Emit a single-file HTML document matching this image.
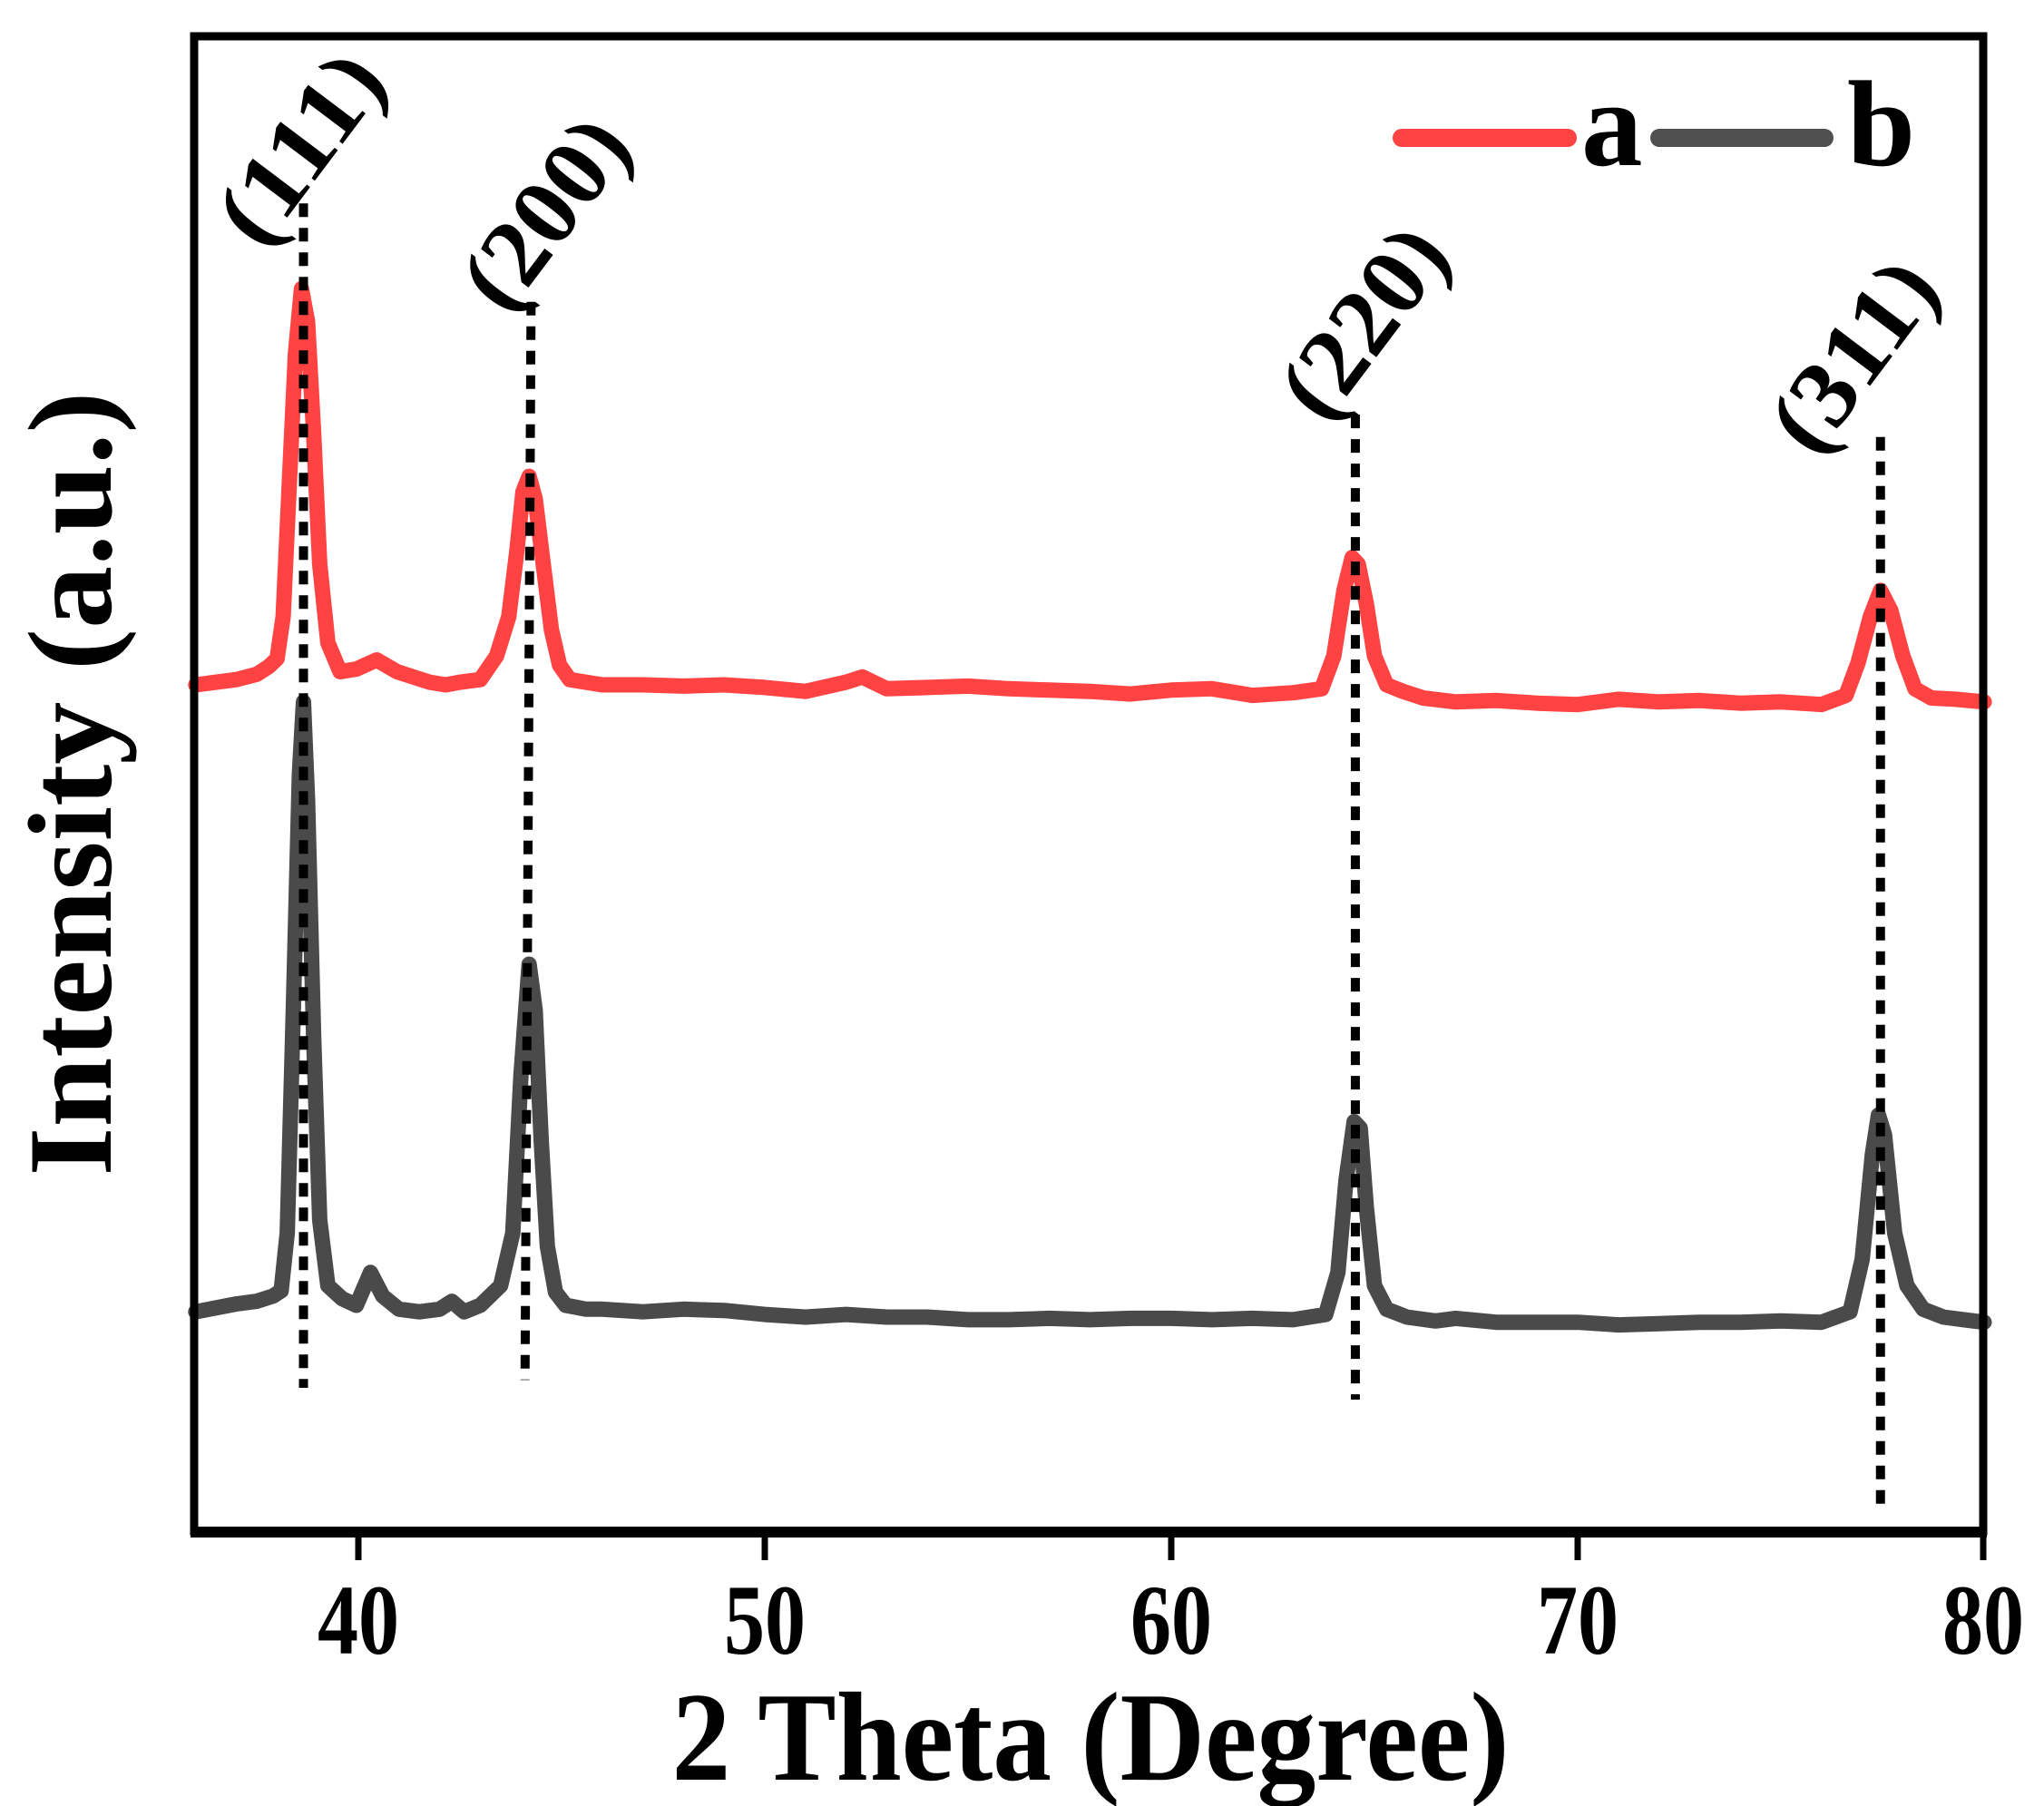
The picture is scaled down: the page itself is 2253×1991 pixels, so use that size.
<!DOCTYPE html>
<html><head><meta charset="utf-8"><style>
html,body{margin:0;padding:0;background:#fff;}
svg{display:block;}
text{font-family:"Liberation Serif",serif;font-weight:bold;fill:#000;}
</style></head><body>
<svg id="chart" width="2253" height="1991" viewBox="0 0 2253 1991" xmlns="http://www.w3.org/2000/svg">
<rect x="0" y="0" width="2253" height="1991" fill="#fff"/>
<g id="plot"></g>
<rect x="214" y="40" width="1972" height="1648" fill="none" stroke="#000" stroke-width="9"/>
<line x1="210" y1="1689" x2="2190" y2="1689" stroke="#000" stroke-width="12"/>
<g id="ticks"></g>
<text x="1202" y="1962" font-size="140" text-anchor="middle" textLength="923" lengthAdjust="spacingAndGlyphs">2 Theta (Degree)</text>
<text transform="translate(122,864) rotate(-90)" x="0" y="0" font-size="132" text-anchor="middle" textLength="865" lengthAdjust="spacingAndGlyphs">Intensity (a.u.)</text>
<g>
<line x1="1545" y1="152" x2="1728" y2="152" stroke="#FF4343" stroke-width="20" stroke-linecap="round"/>
<text x="1743" y="182" font-size="135">a</text>
<line x1="1829" y1="152" x2="2011" y2="152" stroke="#505050" stroke-width="20" stroke-linecap="round"/>
<text x="2036" y="182" font-size="135">b</text>
</g>
</svg>
<script>
const xTicks=[40,50,60,70,80];
const xTickLabels=["40","50","60","70","80"];
const aTheta=[36,36.5,37,37.5,37.8,38.0,38.15,38.3,38.45,38.6,38.75,38.9,39.05,39.25,39.55,39.95,40.45,40.95,41.35,41.75,42.15,42.5,43.0,43.4,43.7,43.9,44.05,44.2,44.35,44.55,44.75,44.95,45.2,45.6,46,47,48,49,50,51,52,52.4,53,54,55,56,57,58,59,60,61,62,63,63.7,64.0,64.25,64.45,64.6,64.8,65.0,65.3,65.7,66.2,67,68,69,70,71,72,73,74,75,76,76.6,76.9,77.2,77.45,77.7,78.0,78.3,78.7,79.3,80];
const aVal=[648,650,652,656,662,668,700,800,900,950,925,840,740,680,658,660,667,658,654,650,648,650,652,670,700,750,795,807,790,740,690,663,652,650,648,648,647,648,646,643,650,654,645,646,647,645,644,643,641,644,645,640,642,645,670,720,745,740,710,670,648,643,638,635,636,634,633,637,635,636,634,635,633,640,665,700,720,705,670,645,638,637,635];
const bTheta=[36,36.5,37,37.5,37.9,38.1,38.25,38.4,38.55,38.65,38.75,38.9,39.05,39.25,39.6,39.95,40.3,40.6,41,41.5,42,42.3,42.6,43,43.5,43.8,44.0,44.2,44.35,44.5,44.65,44.85,45.1,45.6,46,47,48,49,50,51,52,53,54,55,56,57,58,59,60,61,62,63,63.8,64.1,64.3,64.5,64.65,64.8,65.0,65.3,65.8,66.5,67,68,69,70,71,72,73,74,75,76,76.7,77.0,77.25,77.4,77.55,77.8,78.1,78.5,79,79.5,80];
const bVal=[170,173,176,178,182,186,230,400,580,635,560,380,240,190,180,175,200,182,172,170,172,178,170,175,190,230,350,435,400,300,220,185,175,172,172,170,172,171,168,166,168,166,166,164,164,165,164,165,165,164,165,164,168,200,270,315,310,250,190,172,166,163,165,162,162,162,160,161,162,162,163,162,170,210,290,320,305,230,190,172,166,164,162];
const refTheta=[[38.65,38.65],[44.25,44.1],[64.53,64.53],[77.45,77.45]];
const refVal=[[1015,112],[940,118],[854,103],[837,17]];
const refLabels=["(111)","(200)","(220)","(311)"];
const refLabelX=[330,600,1502,2042];
const refLabelY=[162,234,354,391];
const NS="http://www.w3.org/2000/svg";
function xs(v){return 395+(v-40)*44.8;}
function ys(v){return 1692-v*1.446;}
const plot=document.getElementById('plot');
function series(th,vals,color,name){
  const p=document.createElementNS(NS,'path');
  let d='';
  for(let i=0;i<th.length;i++){d+=(i?'L':'M')+xs(th[i]).toFixed(1)+','+ys(vals[i]).toFixed(1);}
  p.setAttribute('d',d);p.setAttribute('fill','none');p.setAttribute('stroke',color);
  p.setAttribute('stroke-width','17');p.setAttribute('stroke-linejoin','round');p.setAttribute('stroke-linecap','round');
  
  
  plot.appendChild(p);
}
series(aTheta,aVal,'#FF4343','series-a-line');
series(bTheta,bVal,'#4A4A4A','series-b-line');
for(let i=0;i<refTheta.length;i++){
  const l=document.createElementNS(NS,'line');
  l.setAttribute('x1',xs(refTheta[i][0]));l.setAttribute('y1',ys(refVal[i][0]));
  l.setAttribute('x2',xs(refTheta[i][1]));l.setAttribute('y2',ys(refVal[i][1]));
  l.setAttribute('stroke','#000');l.setAttribute('stroke-width','10');l.setAttribute('stroke-dasharray','15 12');
  
  
  plot.appendChild(l);
  const t=document.createElementNS(NS,'text');
  t.setAttribute('transform','translate('+refLabelX[i]+','+refLabelY[i]+') rotate(-53)');
  t.setAttribute('x','0');t.setAttribute('y','36');t.setAttribute('font-size','105');
  t.setAttribute('text-anchor','middle');t.setAttribute('textLength','235');t.setAttribute('lengthAdjust','spacingAndGlyphs');
  t.textContent=refLabels[i];
  
  
  plot.appendChild(t);
}
const tg=document.getElementById('ticks');
for(let i=0;i<xTicks.length;i++){
  const x=Math.min(xs(xTicks[i]),2186);
  const l=document.createElementNS(NS,'line');
  l.setAttribute('x1',x);l.setAttribute('x2',x);l.setAttribute('y1',1694);l.setAttribute('y2',1720);
  l.setAttribute('stroke','#000');l.setAttribute('stroke-width','7');
  
  
  tg.appendChild(l);
  const t=document.createElementNS(NS,'text');
  t.setAttribute('x',x);t.setAttribute('y',1823);t.setAttribute('font-size','110');t.setAttribute('text-anchor','middle');
  t.setAttribute('textLength','90');t.setAttribute('lengthAdjust','spacingAndGlyphs');
  t.textContent=xTickLabels[i];
  
  
  tg.appendChild(t);
}
</script>
</body></html>
